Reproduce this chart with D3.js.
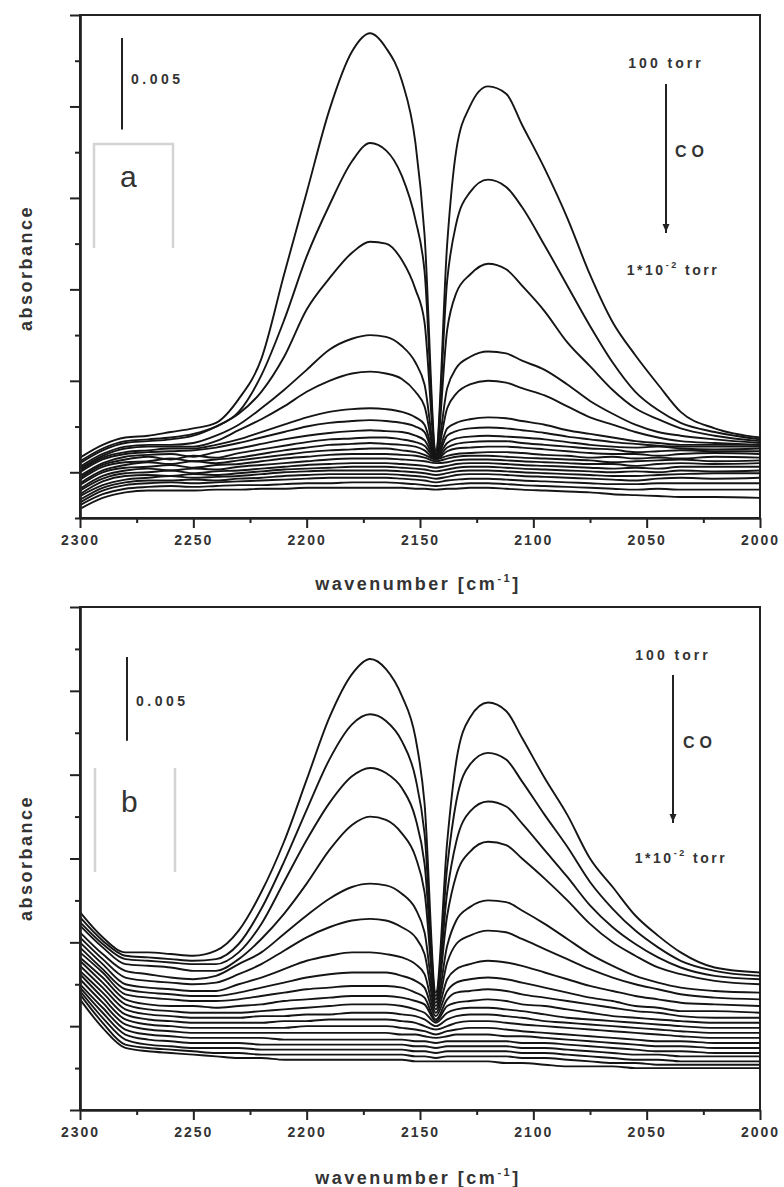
<!DOCTYPE html>
<html>
<head>
<meta charset="utf-8">
<script src="https://cdn.jsdelivr.net/npm/d3@7"></script>
<style>
  body { margin: 0; background: #fff; }
  svg text { font-family: "Liberation Sans", Arial, sans-serif; fill: #333; }
</style>
</head>
<body>
<div id="chart"></div>
<script>
// wavenumber grid (cm-1) shared by every spectrum
const wavenumbers = [2300, 2290, 2280, 2270, 2260, 2250, 2240, 2230, 2220, 2210,
  2200, 2190, 2180, 2172, 2165, 2158, 2152, 2148, 2143, 2138,
  2134, 2128, 2120, 2112, 2105, 2095, 2085, 2075, 2065, 2055,
  2045, 2035, 2020, 2000];

// absorbance values in units of 0.001 (100 torr -> 1e-2 torr)
const spectraA = [
  [0.8,1.5,1.9,2.0,2.2,2.4,2.7,4.0,6.2,10.8, 15.3,19.8,23.0,24.0,23.2,21.4,18.0,13.0,1.2,12.5, 17.6,20.0,21.1,20.7,19.0,16.6,13.9,10.8,8.2,6.4, 4.8,3.3,2.4,1.9],
  [0.6,1.3,1.7,1.8,1.9,2.1,2.5,3.3,5.3,8.3, 11.8,14.6,17.0,18.0,17.6,16.2,13.8,11.0,1.1,10.5, 13.6,15.3,16.0,15.6,14.5,12.4,10.2,8.0,6.0,4.4, 3.4,2.7,2.2,1.8],
  [0.5,1.2,1.6,1.7,1.8,2.0,2.5,3.2,4.4,6.3, 8.9,10.6,12.0,12.6,12.5,11.6,10.0,8.2,1.0,7.8, 9.8,10.8,11.4,11.1,10.2,8.8,7.1,5.8,4.5,3.5, 2.9,2.4,2.0,1.7],
  [0.3,1.0,1.4,1.5,1.5,1.6,2.0,2.6,3.5,4.5, 5.6,6.7,7.3,7.5,7.4,6.9,6.0,4.8,0.95,4.6, 5.7,6.3,6.6,6.5,6.1,5.6,4.8,3.9,3.2,2.6, 2.2,2.0,1.8,1.6],
  [0.2,0.9,1.3,1.4,1.4,1.4,1.7,2.3,2.9,3.6, 4.4,5.0,5.4,5.5,5.4,5.1,4.4,3.6,0.9,3.5, 4.3,4.8,5.0,4.9,4.6,4.2,3.6,3.0,2.6,2.2, 1.9,1.7,1.6,1.5],
  [0.1,0.8,1.1,1.2,1.3,1.3,1.5,1.8,2.2,2.6, 3.0,3.3,3.45,3.5,3.45,3.3,3.0,2.6,0.85,2.4, 2.7,2.9,3.0,2.95,2.8,2.6,2.3,2.1,1.9,1.7, 1.6,1.5,1.5,1.5],
  [0.0,0.7,1.0,1.1,1.15,1.2,1.35,1.6,1.9,2.2, 2.5,2.7,2.8,2.85,2.8,2.7,2.5,2.2,0.8,2.0, 2.25,2.4,2.45,2.4,2.3,2.15,1.95,1.8,1.65,1.55, 1.45,1.4,1.4,1.4],
  [-0.2,0.5,0.85,0.95,1.0,0.85,1.1,1.3,1.55,1.8, 2.0,2.15,2.25,2.3,2.25,2.2,2.0,1.75,0.8,1.6, 1.85,1.95,2.0,1.95,1.9,1.8,1.65,1.5,1.4,1.35, 1.4,1.3,1.25,1.3],
  [-0.3,0.4,0.7,0.85,0.7,0.9,0.8,1.05,1.25,1.45, 1.65,1.8,1.85,1.9,1.9,1.8,1.65,1.45,0.75,1.35, 1.55,1.65,1.7,1.7,1.6,1.5,1.4,1.3,1.25,1.1, 1.15,1.2,1.15,1.15],
  [-0.4,0.3,0.55,0.6,0.75,0.6,0.7,0.8,1.0,1.2, 1.35,1.5,1.55,1.6,1.55,1.5,1.4,1.2,0.7,1.15, 1.3,1.35,1.4,1.4,1.35,1.25,1.15,1.05,1.0,1.0, 0.9,1.0,1.05,1.0],
  [-0.6,0.1,0.4,0.55,0.45,0.6,0.5,0.65,0.8,0.95, 1.1,1.2,1.25,1.3,1.3,1.2,1.1,0.95,0.7,0.9, 1.0,1.05,1.1,1.1,1.05,0.95,0.9,0.8,0.85,0.75, 0.8,0.75,0.85,0.8],
  [-0.7,0.0,0.25,0.3,0.4,0.25,0.4,0.45,0.6,0.75, 0.85,0.95,1.0,1.0,1.0,0.95,0.9,0.8,0.6,0.75, 0.85,0.9,0.9,0.85,0.8,0.75,0.7,0.65,0.55,0.6, 0.65,0.7,0.6,0.65],
  [-0.9,-0.2,0.1,0.2,0.1,0.2,0.15,0.3,0.4,0.5, 0.6,0.7,0.75,0.75,0.75,0.7,0.65,0.6,0.5,0.55, 0.65,0.7,0.7,0.65,0.6,0.55,0.5,0.45,0.45,0.35, 0.45,0.5,0.45,0.5],
  [-1.0,-0.35,-0.05,0.0,0.1,-0.05,0.05,0.1,0.2,0.3, 0.4,0.45,0.5,0.5,0.5,0.45,0.4,0.35,0.25,0.35, 0.45,0.5,0.5,0.45,0.4,0.35,0.3,0.25,0.2,0.25, 0.2,0.3,0.3,0.3],
  [-1.2,-0.5,-0.2,-0.15,-0.2,-0.1,-0.15,-0.05,0.05,0.15, 0.2,0.25,0.3,0.3,0.3,0.25,0.2,0.15,0.05,0.15, 0.25,0.3,0.3,0.25,0.2,0.15,0.1,0.05,0.0,0.05, 0.0,0.1,0.05,0.1],
  [-1.3,-0.7,-0.4,-0.3,-0.2,-0.3,-0.25,-0.2,-0.1,0.0, 0.05,0.1,0.1,0.1,0.1,0.05,0.0,-0.05,-0.15,-0.05, 0.05,0.1,0.1,0.05,0.0,-0.05,-0.1,-0.15,-0.2,-0.2, -0.15,-0.1,-0.05,-0.05],
  [-1.5,-0.85,-0.55,-0.45,-0.45,-0.4,-0.45,-0.35,-0.3,-0.2, -0.15,-0.1,-0.1,-0.1,-0.1,-0.15,-0.2,-0.25,-0.35,-0.25, -0.15,-0.1,-0.1,-0.15,-0.2,-0.25,-0.3,-0.35,-0.4,-0.45, -0.35,-0.3,-0.35,-0.3],
  [-1.65,-1.0,-0.7,-0.6,-0.55,-0.6,-0.55,-0.5,-0.45,-0.4, -0.35,-0.3,-0.3,-0.3,-0.3,-0.35,-0.4,-0.45,-0.55,-0.45, -0.4,-0.35,-0.35,-0.4,-0.45,-0.5,-0.55,-0.6,-0.65,-0.65, -0.6,-0.6,-0.6,-0.6],
  [-1.8,-1.2,-0.9,-0.8,-0.75,-0.8,-0.75,-0.7,-0.7,-0.65, -0.6,-0.6,-0.55,-0.55,-0.55,-0.6,-0.65,-0.7,-0.75,-0.7, -0.65,-0.6,-0.6,-0.65,-0.7,-0.75,-0.8,-0.85,-0.9,-0.95, -0.9,-0.95,-0.95,-0.95],
  [-2.0,-1.4,-1.1,-1.0,-1.0,-1.0,-0.95,-0.95,-0.9,-0.9, -0.85,-0.85,-0.85,-0.85,-0.85,-0.85,-0.9,-0.9,-0.95,-0.9, -0.9,-0.85,-0.85,-0.9,-0.95,-1.0,-1.05,-1.1,-1.2,-1.25, -1.3,-1.35,-1.35,-1.4]
];

const spectraB = [
  [11.8,10.3,9.4,9.4,9.3,9.2,9.5,10.7,13.0,16.0, 19.7,23.4,26.0,26.9,26.3,24.7,22.2,18.3,7.0,16.0, 20.8,23.4,24.3,23.8,22.2,19.8,17.6,15.0,13.3,11.6, 10.4,9.4,8.5,8.2],
  [11.5,10.1,9.2,9.1,9.0,8.9,9.0,9.9,12.0,14.8, 17.9,20.9,23.0,23.6,23.2,22.0,19.8,16.5,6.8,14.5, 18.4,20.6,21.3,20.9,19.6,17.6,15.7,13.6,12.0,10.7, 9.7,8.9,8.3,8.0],
  [11.2,9.9,9.0,8.9,8.8,8.7,8.7,9.4,11.1,13.6, 16.1,18.3,19.9,20.4,20.1,19.2,17.4,14.7,6.6,13.0, 16.0,17.8,18.4,18.1,17.1,15.5,13.9,12.2,10.9,9.9, 9.1,8.5,8.0,7.8],
  [11.0,9.7,8.7,8.6,8.5,8.3,8.3,9.0,10.2,11.7, 13.5,15.5,17.0,17.5,17.3,16.5,15.1,13.0,6.4,11.6, 14.0,15.4,16.0,15.8,15.0,13.8,12.5,11.1,10.0,9.2, 8.5,8.1,7.7,7.5],
  [10.6,9.3,8.3,8.1,7.9,7.8,8.0,8.7,9.4,10.5, 11.6,12.6,13.3,13.5,13.4,12.9,12.0,10.6,6.2,9.8, 11.3,12.1,12.5,12.4,11.9,11.1,10.2,9.3,8.6,8.0, 7.6,7.3,7.1,7.0],
  [10.3,9.0,7.9,7.7,7.6,7.5,7.6,8.1,8.7,9.5, 10.3,10.9,11.3,11.4,11.3,10.9,10.3,9.3,6.0,8.8, 9.9,10.4,10.7,10.6,10.2,9.6,9.0,8.4,7.9,7.5, 7.2,6.9,6.7,6.6],
  [10.0,8.7,7.5,7.3,7.2,7.1,7.1,7.5,7.9,8.4, 8.9,9.2,9.4,9.4,9.3,9.1,8.7,8.1,5.8,7.8, 8.4,8.7,8.9,8.8,8.6,8.2,7.8,7.4,7.1,6.8, 6.6,6.4,6.3,6.2],
  [9.7,8.4,7.2,7.0,6.9,6.8,6.8,7.0,7.3,7.6, 7.9,8.1,8.2,8.2,8.2,8.0,7.7,7.3,5.6,7.1, 7.6,7.8,7.9,7.8,7.6,7.3,7.0,6.7,6.5,6.2, 6.1,5.9,5.9,5.8],
  [9.4,8.2,6.9,6.7,6.6,6.5,6.5,6.6,6.8,7.0, 7.2,7.3,7.4,7.4,7.4,7.3,7.0,6.7,5.4,6.6, 7.0,7.1,7.2,7.1,6.9,6.7,6.5,6.3,6.1,5.9, 5.8,5.6,5.5,5.5],
  [9.1,7.9,6.6,6.3,6.2,6.2,6.1,6.2,6.3,6.5, 6.6,6.7,6.8,6.8,6.8,6.7,6.5,6.3,5.3,6.2, 6.4,6.5,6.6,6.5,6.3,6.2,6.0,5.8,5.6,5.5, 5.4,5.3,5.2,5.2],
  [8.9,7.6,6.3,6.0,5.9,5.8,5.8,5.8,5.9,6.0, 6.1,6.2,6.3,6.3,6.3,6.2,6.0,5.8,5.2,5.8, 6.0,6.1,6.1,6.0,5.9,5.7,5.5,5.4,5.3,5.2, 5.1,5.0,4.9,4.9],
  [8.6,7.3,6.0,5.7,5.6,5.5,5.5,5.5,5.6,5.6, 5.7,5.7,5.8,5.8,5.8,5.7,5.6,5.4,5.0,5.4, 5.6,5.7,5.7,5.6,5.5,5.3,5.2,5.1,5.0,4.9, 4.8,4.7,4.6,4.6],
  [8.3,7.0,5.7,5.4,5.3,5.2,5.2,5.2,5.2,5.3, 5.3,5.4,5.4,5.4,5.4,5.3,5.2,5.0,4.8,5.0, 5.2,5.3,5.3,5.2,5.1,5.0,4.9,4.8,4.7,4.6, 4.5,4.4,4.3,4.3],
  [8.1,6.7,5.4,5.1,5.0,4.9,4.9,4.9,4.9,4.9, 5.0,5.0,5.0,5.0,5.0,4.9,4.8,4.7,4.5,4.7, 4.8,4.9,4.9,4.8,4.7,4.6,4.5,4.4,4.3,4.2, 4.1,4.1,4.0,4.0],
  [7.8,6.4,5.1,4.8,4.7,4.6,4.6,4.6,4.6,4.6, 4.6,4.6,4.6,4.6,4.6,4.5,4.5,4.4,4.3,4.4, 4.5,4.5,4.5,4.4,4.4,4.3,4.2,4.1,4.0,3.9, 3.8,3.8,3.7,3.7],
  [7.5,6.1,4.8,4.5,4.4,4.3,4.3,4.3,4.3,4.2, 4.2,4.2,4.2,4.2,4.2,4.2,4.1,4.1,4.0,4.1, 4.1,4.1,4.1,4.1,4.0,4.0,3.9,3.8,3.7,3.6, 3.5,3.5,3.4,3.4],
  [7.3,5.8,4.5,4.2,4.1,4.0,4.0,4.0,3.9,3.9, 3.9,3.9,3.9,3.9,3.9,3.9,3.8,3.8,3.7,3.8, 3.8,3.8,3.8,3.8,3.7,3.7,3.6,3.5,3.4,3.3, 3.3,3.2,3.2,3.2],
  [7.1,5.5,4.2,3.9,3.8,3.7,3.7,3.7,3.6,3.6, 3.6,3.6,3.6,3.6,3.6,3.6,3.5,3.5,3.4,3.5, 3.5,3.5,3.5,3.5,3.4,3.4,3.3,3.2,3.1,3.0, 3.0,2.9,2.9,2.9],
  [6.9,5.2,3.9,3.7,3.6,3.5,3.4,3.4,3.3,3.3, 3.3,3.3,3.3,3.3,3.3,3.3,3.2,3.2,3.1,3.2, 3.2,3.2,3.2,3.2,3.1,3.1,3.0,2.9,2.8,2.8, 2.7,2.7,2.7,2.7],
  [6.6,4.9,3.7,3.5,3.4,3.3,3.2,3.1,3.1,3.0, 3.0,3.0,3.0,3.0,3.0,3.0,2.9,2.9,2.9,2.9, 2.9,2.9,2.9,2.8,2.8,2.7,2.6,2.6,2.6,2.5, 2.5,2.5,2.5,2.5]
];

const xMajorTicks = [2300, 2250, 2200, 2150, 2100, 2050, 2000];
const xMinorTicks = [2275, 2225, 2175, 2125, 2075, 2025];
const yDomainA = [-2.5, 25];
const yDomainB = [0, 30];
const scaleBarValue = 5; // 0.005 absorbance

const width = 784, height = 1187;
const svg = d3.select('#chart').append('svg')
  .attr('width', width)
  .attr('height', height);

const x = d3.scaleLinear().domain([2300, 2000]).range([80, 760]);

function drawPanel(cfg) {
  const y = d3.scaleLinear().domain(cfg.yDomain).range([cfg.bottom, cfg.top]);
  const g = svg.append('g');

  // frame (top + right)
  g.append('rect')
    .attr('x', x(2300)).attr('y', cfg.top)
    .attr('width', x(2000) - x(2300)).attr('height', cfg.bottom - cfg.top)
    .attr('fill', 'none').attr('stroke', '#222').attr('stroke-width', 2);

  // spectra
  const line = d3.line()
    .x((d, i) => x(wavenumbers[i]))
    .y(d => y(d))
    .curve(d3.curveMonotoneX);
  g.append('g').selectAll('path')
    .data(cfg.spectra)
    .enter().append('path')
    .attr('d', line)
    .attr('fill', 'none')
    .attr('stroke', '#151515')
    .attr('stroke-width', 1.9);

  // y ticks
  const ySteps = d3.range(cfg.yDomain[0], cfg.yDomain[1] + 0.01, 2.5);
  const yMajor = ySteps.filter(v => v % 5 === 0);
  const yMinor = ySteps.filter(v => v % 5 !== 0);
  const yAxisG = g.append('g').attr('transform', `translate(${x(2300)},0)`);
  yAxisG.append('g').call(d3.axisLeft(y).tickValues(yMajor).tickSize(10).tickSizeOuter(0).tickFormat(''));
  yAxisG.append('g').call(d3.axisLeft(y).tickValues(yMinor).tickSize(5).tickSizeOuter(0).tickFormat(''));

  // x ticks
  const xAxisG = g.append('g').attr('transform', `translate(0,${cfg.bottom})`);
  xAxisG.append('g')
    .call(d3.axisBottom(x).tickValues(xMajorTicks).tickSize(10).tickSizeOuter(0)
      .tickPadding(7).tickFormat(d3.format('d')))
    .selectAll('text')
    .style('font-size', '14px').style('font-weight', 'bold')
    .style('letter-spacing', '2px').attr('fill', '#333');
  xAxisG.append('g').call(d3.axisBottom(x).tickValues(xMinorTicks).tickSize(5).tickSizeOuter(0).tickFormat(''));

  g.selectAll('.domain').attr('stroke', '#222').attr('stroke-width', 2.2);
  g.selectAll('.tick line').attr('stroke', '#222').attr('stroke-width', 2);

  // axis titles
  const xt = g.append('text')
    .attr('x', 418).attr('y', cfg.xTitleY)
    .attr('text-anchor', 'middle')
    .style('font-size', '18px').style('font-weight', 'bold').style('letter-spacing', '2.5px');
  xt.append('tspan').text('wavenumber [cm');
  xt.append('tspan').attr('dy', -8).style('font-size', '11px').text('-1');
  xt.append('tspan').attr('dy', 8).text(']');

  g.append('text')
    .attr('transform', `translate(32,${cfg.yTitleY}) rotate(-90)`)
    .attr('text-anchor', 'middle')
    .style('font-size', '18px').style('font-weight', 'bold').style('letter-spacing', '2.5px')
    .text('absorbance');

  // scale bar 0.005
  const ox = x(2300), oy = cfg.top;
  const barLen = y(0) - y(scaleBarValue);
  g.append('line')
    .attr('x1', ox + cfg.bar.dx).attr('x2', ox + cfg.bar.dx)
    .attr('y1', oy + cfg.bar.dy).attr('y2', oy + cfg.bar.dy + barLen)
    .attr('stroke', '#222').attr('stroke-width', 2);
  g.append('text')
    .attr('x', ox + cfg.bar.dx + 9).attr('y', oy + cfg.bar.textDy)
    .style('font-size', '14px').style('font-weight', 'bold').style('letter-spacing', '3.5px')
    .text('0.005');

  // grey bracket and panel letter
  const br = cfg.bracket;
  const bracketPath = br.top
    ? `M${ox + br.x1},${oy + br.y2}V${oy + br.y1}H${ox + br.x2}V${oy + br.y2}`
    : `M${ox + br.x1},${oy + br.y1}V${oy + br.y2}M${ox + br.x2},${oy + br.y1}V${oy + br.y2}`;
  g.append('path').attr('d', bracketPath)
    .attr('fill', 'none').attr('stroke', '#d4d4d4').attr('stroke-width', 2.5);
  g.append('text')
    .attr('x', ox + cfg.letter.dx).attr('y', oy + cfg.letter.dy)
    .style('font-size', '30px').attr('fill', '#222')
    .text(cfg.letter.text);

  // pressure arrow
  const ar = cfg.arrow;
  g.append('text')
    .attr('x', ox + ar.dx).attr('y', oy + ar.topTextDy)
    .attr('text-anchor', 'middle')
    .style('font-size', '14px').style('font-weight', 'bold').style('letter-spacing', '3px')
    .text('100 torr');
  g.append('line')
    .attr('x1', ox + ar.dx).attr('x2', ox + ar.dx)
    .attr('y1', oy + ar.y1).attr('y2', oy + ar.y2)
    .attr('stroke', '#222').attr('stroke-width', 2);
  g.append('path')
    .attr('d', `M${ox + ar.dx - 3.5},${oy + ar.y2 - 9}L${ox + ar.dx + 3.5},${oy + ar.y2 - 9}L${ox + ar.dx},${oy + ar.y2 - 1}Z`)
    .attr('fill', '#222');
  g.append('text')
    .attr('x', ox + ar.dx + ar.coDx).attr('y', oy + ar.coDy)
    .style('font-size', '16px').style('font-weight', 'bold').style('letter-spacing', '5px')
    .text('CO');
  const lo = g.append('text')
    .attr('x', ox + ar.dx + ar.lowDx).attr('y', oy + ar.lowDy)
    .attr('text-anchor', 'middle')
    .style('font-size', '14px').style('font-weight', 'bold').style('letter-spacing', '2.5px');
  lo.append('tspan').text('1*10');
  lo.append('tspan').attr('dy', -7).style('font-size', '9px').text('-2');
  lo.append('tspan').attr('dy', 7).text(' torr');
}

drawPanel({
  top: 15, bottom: 518, yDomain: yDomainA, spectra: spectraA,
  xTitleY: 590, yTitleY: 268,
  bar: { dx: 42, dy: 23, textDy: 69 },
  bracket: { x1: 14, x2: 93, y1: 129, y2: 233, top: true },
  letter: { dx: 40, dy: 172, text: 'a' },
  arrow: { dx: 586, y1: 69, y2: 218, topTextDy: 53, coDx: 9, coDy: 142, lowDx: 7, lowDy: 260 }
});

drawPanel({
  top: 607, bottom: 1110, yDomain: yDomainB, spectra: spectraB,
  xTitleY: 1184, yTitleY: 858,
  bar: { dx: 47, dy: 50, textDy: 99 },
  bracket: { x1: 15, x2: 95, y1: 161, y2: 265, top: false },
  letter: { dx: 41, dy: 205, text: 'b' },
  arrow: { dx: 593, y1: 68, y2: 216, topTextDy: 53, coDx: 10, coDy: 141, lowDx: 8, lowDy: 256 }
});
</script>
</body>
</html>
